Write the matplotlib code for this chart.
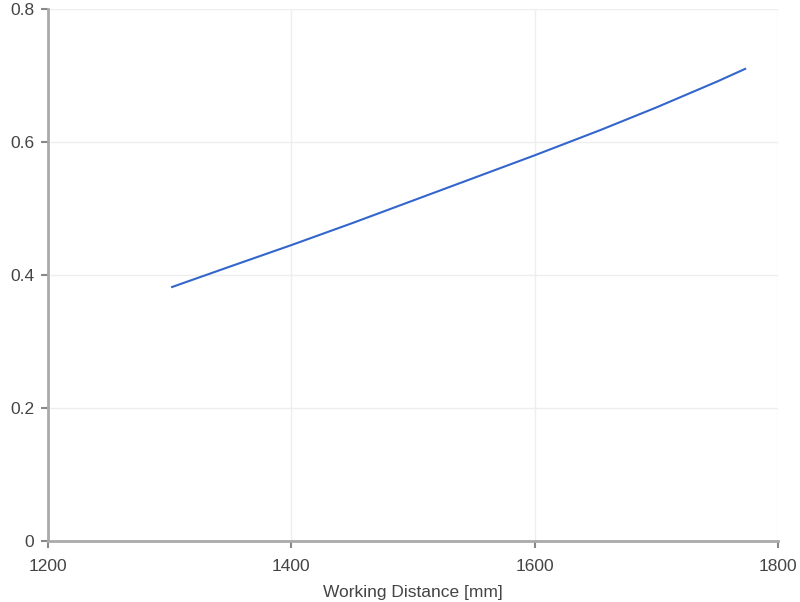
import matplotlib
matplotlib.use("Agg")
import matplotlib.pyplot as plt
import numpy as np

plt.rcParams['font.family'] = ['Liberation Sans', 'DejaVu Sans']

# working distance [mm] vs. value
distance = [1302, 1350, 1400, 1450, 1500, 1550, 1600, 1654, 1700, 1750, 1773]
values = [0.382, 0.413, 0.445, 0.478, 0.512, 0.546, 0.580, 0.618, 0.652, 0.691, 0.710]

x_ticks = [1200, 1400, 1600, 1800]
y_ticks = [0, 0.2, 0.4, 0.6, 0.8]
y_labels = ['0', '0.2', '0.4', '0.6', '0.8']

fig = plt.figure(figsize=(8, 6.02), dpi=100)
ax = fig.add_axes([0.06, 0.1013, 0.9125, 0.8837])

ax.plot(distance, values, color='#3366cc', linewidth=1.5)

ax.set_xlim(1200, 1800)
ax.set_ylim(0, 0.8)
ax.set_xticks(x_ticks)
ax.set_yticks(y_ticks)
ax.set_yticklabels(y_labels)
ax.tick_params(labelsize=12.5, colors='#444444', length=5, width=1.5, color='#888888')
ax.tick_params(axis='x', pad=8)
ax.tick_params(axis='y', pad=5)
ax.grid(color='#eeeeee', linewidth=1)
ax.set_axisbelow(True)

for side in ['top', 'right']:
    ax.spines[side].set_visible(False)
for side in ['left', 'bottom']:
    ax.spines[side].set_color('#aaaaaa')
    ax.spines[side].set_linewidth(2)

ax.set_xlabel('Working Distance [mm]', fontsize=12.5, color='#444444', labelpad=8)

fig.savefig('out.png', dpi=100)
